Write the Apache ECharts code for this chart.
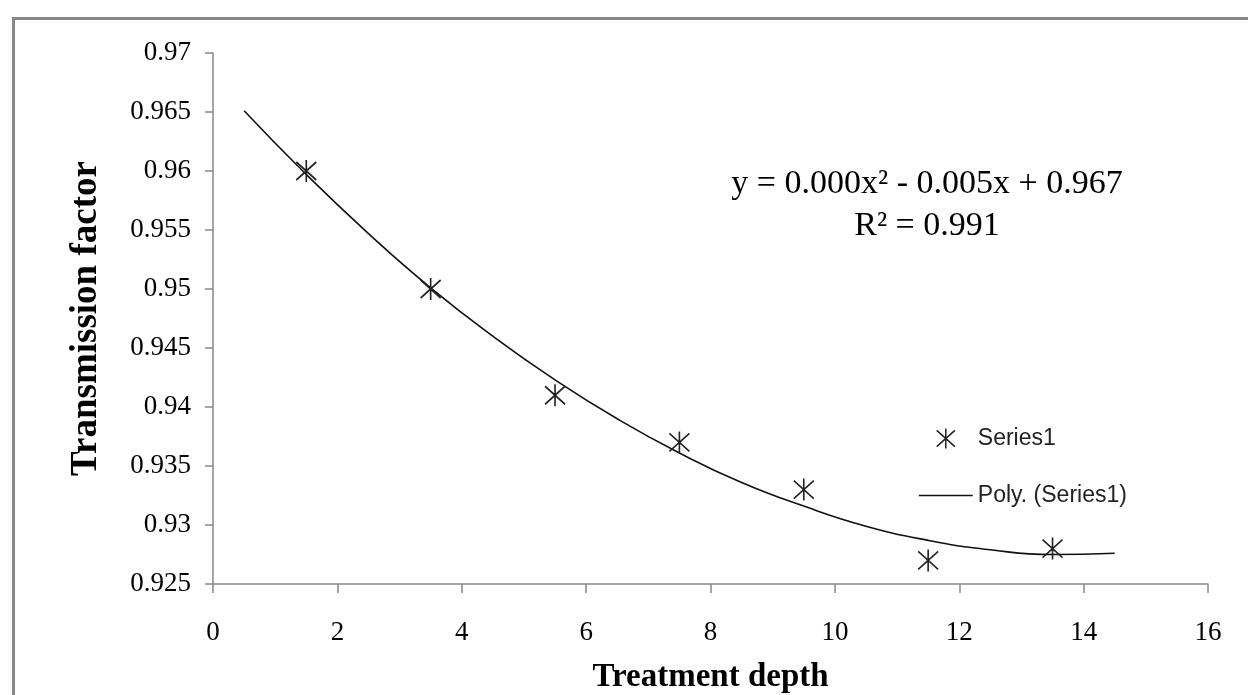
<!DOCTYPE html>
<html>
<head>
<meta charset="utf-8">
<script src="https://cdn.jsdelivr.net/npm/echarts@6/dist/echarts.min.js"></script>
<style>
html,body{margin:0;padding:0;background:#fff;}
#chart{width:1248px;height:695px;}
</style>
</head>
<body>
<div id="chart"></div>
<script>
// Measured points (Series1)
const depthValues = [1.5, 3.5, 5.5, 7.5, 9.5, 11.5, 13.5];
const transmissionValues = [0.960, 0.950, 0.941, 0.937, 0.933, 0.927, 0.928];
// Poly. (Series1) trend line
const trendDepths = [0.5, 1.5, 2.5, 3.5, 4.5, 5.5, 6.5, 7.5, 8.5, 9.5, 10.5, 11.5, 12.5, 13.5, 14.5];
const trendValues = [0.9651, 0.9597, 0.9547, 0.9501, 0.9460, 0.9423, 0.9390, 0.9361, 0.9336, 0.9316, 0.9299, 0.9287, 0.9279, 0.9275, 0.9276];
// Axis ticks
const xTicks = [0, 2, 4, 6, 8, 10, 12, 14, 16];
const yTicks = [0.925, 0.93, 0.935, 0.94, 0.945, 0.95, 0.955, 0.96, 0.965, 0.97];
const equationLines = ['y = 0.000x\u00B2 - 0.005x + 0.967', 'R\u00B2 = 0.991'];

const serif = "'Liberation Serif', 'Times New Roman', serif";
const sans = "'Liberation Sans', Arial, sans-serif";
const starPath = 'path://M10,0L10,22M0,2L20,20M0,20L20,2';

const chart = echarts.init(document.getElementById('chart'));
chart.setOption({
  backgroundColor: '#fff',
  animation: false,
  grid: { left: 213, right: 40, top: 53, bottom: 111, outerBoundsMode: 'none', containLabel: false },
  xAxis: {
    type: 'value',
    min: xTicks[0], max: xTicks[xTicks.length - 1], interval: 2,
    name: 'Treatment depth', nameLocation: 'middle', nameGap: 77,
    nameTextStyle: { fontFamily: serif, fontWeight: 'bold', fontSize: 33, color: '#000' },
    axisLine: { lineStyle: { color: '#888', width: 1.5 } },
    axisTick: { show: true, inside: false, length: 9, lineStyle: { color: '#888', width: 1.5 } },
    axisLabel: { fontFamily: serif, fontSize: 27, color: '#000', margin: 35 },
    splitLine: { show: false }
  },
  yAxis: {
    type: 'value',
    min: yTicks[0], max: yTicks[yTicks.length - 1], interval: 0.005,
    name: 'Transmission factor', nameLocation: 'middle', nameGap: 108,
    nameTextStyle: { fontFamily: serif, fontWeight: 'bold', fontSize: 37, color: '#000' },
    axisLine: { show: true, lineStyle: { color: '#888', width: 1.5 } },
    axisTick: { show: true, inside: false, length: 8, lineStyle: { color: '#888', width: 1.5 } },
    axisLabel: { fontFamily: serif, fontSize: 27, color: '#000', margin: 22,
      formatter: v => String(+v.toFixed(3)) },
    splitLine: { show: false }
  },
  legend: {
    orient: 'vertical', left: 918, top: 427, padding: 0,
    itemWidth: 54, itemHeight: 20, itemGap: 34,
    textStyle: { fontFamily: sans, fontSize: 23, color: '#222' },
    data: [
      { name: 'Series1', icon: starPath, itemStyle: { color: 'rgba(0,0,0,0)', borderColor: '#222', borderWidth: 1.5 } },
      { name: 'Poly. (Series1)', itemStyle: { color: 'rgba(0,0,0,0)', borderColor: 'rgba(0,0,0,0)', borderWidth: 0, opacity: 0 },
        lineStyle: { color: '#111', width: 1.6 } }
    ]
  },
  graphic: [
    { type: 'rect', left: 11, top: 16, silent: true,
      shape: { width: 1400, height: 900 },
      style: { fill: 'none', stroke: '#888', lineWidth: 3 } },
    { type: 'text', x: 927, y: 201, silent: true,
      style: { text: equationLines[0], font: "34px 'Liberation Serif', serif", fill: '#000', align: 'center', verticalAlign: 'bottom' } },
    { type: 'text', x: 927, y: 243, silent: true,
      style: { text: equationLines[1], font: "34px 'Liberation Serif', serif", fill: '#000', align: 'center', verticalAlign: 'bottom' } }
  ],
  series: [
    {
      name: 'Poly. (Series1)', type: 'line', smooth: true,
      data: trendDepths.map((d, i) => [d, trendValues[i]]),
      symbol: 'none', showSymbol: false,
      lineStyle: { color: '#111', width: 1.6 },
      itemStyle: { color: '#111' },
      z: 2
    },
    {
      name: 'Series1', type: 'scatter',
      data: depthValues.map((d, i) => [d, transmissionValues[i]]),
      symbol: starPath, symbolSize: [20, 22],
      itemStyle: { color: 'rgba(0,0,0,0)', borderColor: '#222', borderWidth: 1.7, opacity: 1 },
      z: 3
    }
  ]
});
</script>
</body>
</html>
